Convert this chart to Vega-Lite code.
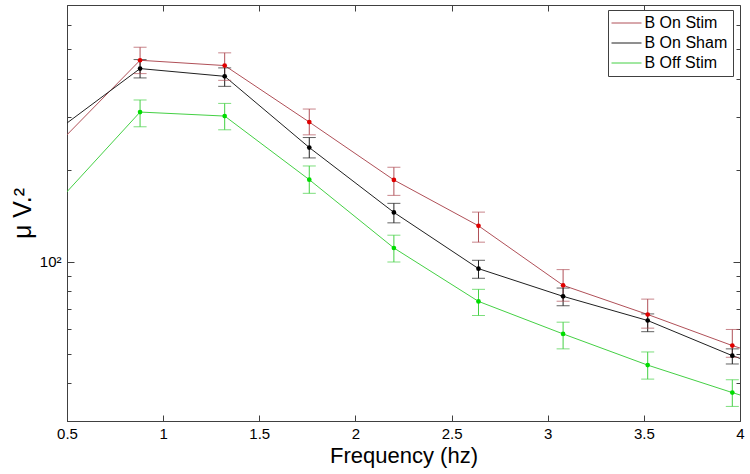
{
  "$schema": "https://vega.github.io/schema/vega-lite/v6.json",
  "width": 673,
  "height": 416,
  "autosize": {"type": "none"},
  "padding": {"left": 67, "top": 5, "right": 10, "bottom": 53},
  "background": "white",
  "config": {
    "view": {"stroke": "#404040", "strokeWidth": 1},
    "font": "Liberation Sans",
    "axis": {
      "domainColor": "#404040",
      "tickColor": "#404040",
      "labelColor": "#000000",
      "titleColor": "#000000",
      "grid": false,
      "labelFont": "Liberation Sans",
      "titleFont": "Liberation Sans",
      "labelFontSize": 15,
      "titleFontWeight": "normal"
    },
    "legend": {
      "orient": "none",
      "legendX": 541,
      "legendY": 5,
      "strokeColor": "#404040",
      "fillColor": "white",
      "padding": 5,
      "symbolType": "M-3,0H3",
      "symbolSize": 100,
      "symbolOffset": 5.5,
      "symbolStrokeWidth": 1,
      "labelFont": "Liberation Sans",
      "labelFontSize": 16,
      "labelColor": "#000000",
      "labelOffset": 10,
      "rowPadding": 4,
      "title": null
    }
  },
  "data": {
    "values": [
      {"series": "B On Stim", "f": 0.44, "v": 239.7, "lo": null, "hi": null},
      {"series": "B On Stim", "f": 0.88, "v": 460.6, "lo": 416.4, "hi": 508.4},
      {"series": "B On Stim", "f": 1.32, "v": 442.5, "lo": 395.7, "hi": 487.3},
      {"series": "B On Stim", "f": 1.76, "v": 288.5, "lo": 261.9, "hi": 318.4},
      {"series": "B On Stim", "f": 2.2, "v": 186.1, "lo": 165.6, "hi": 204.9},
      {"series": "B On Stim", "f": 2.64, "v": 131.5, "lo": 116.2, "hi": 145.9},
      {"series": "B On Stim", "f": 3.08, "v": 83.8, "lo": 74.3, "hi": 94.4},
      {"series": "B On Stim", "f": 3.52, "v": 67.2, "lo": 60.6, "hi": 75.5},
      {"series": "B On Stim", "f": 3.96, "v": 53.1, "lo": 48.6, "hi": 60.0},
      {"series": "B On Stim", "f": 4.4, "v": 43.3, "lo": null, "hi": null},
      {"series": "B On Sham", "f": 0.44, "v": 268.4, "lo": null, "hi": null},
      {"series": "B On Sham", "f": 0.88, "v": 432.5, "lo": 403.0, "hi": 463.1},
      {"series": "B On Sham", "f": 1.32, "v": 407.9, "lo": 378.1, "hi": 434.8},
      {"series": "B On Sham", "f": 1.76, "v": 237.9, "lo": 219.9, "hi": 256.6},
      {"series": "B On Sham", "f": 2.2, "v": 145.6, "lo": 134.5, "hi": 155.9},
      {"series": "B On Sham", "f": 2.64, "v": 95.1, "lo": 88.4, "hi": 101.3},
      {"series": "B On Sham", "f": 3.08, "v": 77.1, "lo": 71.8, "hi": 82.1},
      {"series": "B On Sham", "f": 3.52, "v": 64.2, "lo": 59.0, "hi": 67.5},
      {"series": "B On Sham", "f": 3.96, "v": 49.2, "lo": 46.2, "hi": 51.8},
      {"series": "B On Sham", "f": 4.4, "v": 39.2, "lo": null, "hi": null},
      {"series": "B Off Stim", "f": 0.44, "v": 154.8, "lo": null, "hi": null},
      {"series": "B Off Stim", "f": 0.88, "v": 311.2, "lo": 278.4, "hi": 341.0},
      {"series": "B Off Stim", "f": 1.32, "v": 301.9, "lo": 272.1, "hi": 332.3},
      {"series": "B Off Stim", "f": 1.76, "v": 186.5, "lo": 168.2, "hi": 206.9},
      {"series": "B Off Stim", "f": 2.2, "v": 111.2, "lo": 100.0, "hi": 122.5},
      {"series": "B Off Stim", "f": 2.64, "v": 74.2, "lo": 66.7, "hi": 81.3},
      {"series": "B Off Stim", "f": 3.08, "v": 58.0, "lo": 51.8, "hi": 63.4},
      {"series": "B Off Stim", "f": 3.52, "v": 45.8, "lo": 41.2, "hi": 50.6},
      {"series": "B Off Stim", "f": 3.96, "v": 37.2, "lo": 33.5, "hi": 41.0},
      {"series": "B Off Stim", "f": 4.4, "v": 30.5, "lo": null, "hi": null}
    ]
  },
  "layer": [
    {
      "mark": {"type": "line", "clip": true, "strokeWidth": 1},
      "encoding": {
        "x": {
          "field": "f", "type": "quantitative",
          "scale": {"domain": [0.5, 4], "nice": false, "zero": false},
          "axis": {
            "orient": "bottom",
            "values": [0.5, 1, 1.5, 2, 2.5, 3, 3.5, 4],
            "format": "~g",
            "labelFlush": false,
            "tickSize": -6,
            "labelPadding": 11,
            "title": "Frequency (hz)",
            "titleFontSize": 22,
            "titlePadding": 4
          }
        },
        "y": {
          "field": "v", "type": "quantitative",
          "scale": {"type": "log", "domain": [30, 700], "nice": false},
          "axis": {
            "orient": "left",
            "values": [30, 40, 50, 60, 70, 80, 90, 100, 200, 300, 400, 500, 600, 700],
            "labelExpr": "datum.value == 100 ? '10²' : ''",
            "tickSize": {"condition": {"test": "datum.value == 100", "value": -7}, "value": -4},
            "labelPadding": 13,
            "title": "μ V.²",
            "titleFontSize": 25,
            "titlePadding": 4
          }
        },
        "color": {
          "field": "series", "type": "nominal",
          "scale": {"domain": ["B On Stim", "B On Sham", "B Off Stim"], "range": ["#b05058", "#202020", "#44d044"]},
          "legend": {}
        }
      }
    },
    {
      "transform": [{"filter": "datum.lo != null"}],
      "mark": {"type": "rule", "strokeWidth": 1},
      "encoding": {
        "x": {"field": "f", "type": "quantitative", "axis": {"orient": "top", "values": [1, 1.5, 2, 2.5, 3, 3.5], "labels": false, "title": null, "tickSize": -6, "domain": false}},
        "y": {"field": "lo", "type": "quantitative", "axis": {"orient": "right", "values": [30, 40, 50, 60, 70, 80, 90, 100, 200, 300, 400, 500, 600, 700], "labels": false, "title": null, "tickSize": {"condition": {"test": "datum.value == 100", "value": -7}, "value": -4}, "domain": false}},
        "y2": {"field": "hi"},
        "color": {"field": "series", "type": "nominal", "legend": null}
      }
    },
    {
      "transform": [{"filter": "datum.lo != null"}],
      "mark": {"type": "tick", "orient": "horizontal", "size": 13, "thickness": 1},
      "encoding": {
        "x": {"field": "f", "type": "quantitative", "axis": null},
        "y": {"field": "lo", "type": "quantitative", "axis": null},
        "color": {"field": "series", "type": "nominal", "legend": null}
      }
    },
    {
      "transform": [{"filter": "datum.lo != null"}],
      "mark": {"type": "tick", "orient": "horizontal", "size": 13, "thickness": 1},
      "encoding": {
        "x": {"field": "f", "type": "quantitative", "axis": null},
        "y": {"field": "hi", "type": "quantitative", "axis": null},
        "color": {"field": "series", "type": "nominal", "legend": null}
      }
    },
    {
      "transform": [{"filter": "datum.lo != null"}],
      "mark": {"type": "point", "filled": true, "shape": "circle", "size": 22, "opacity": 1},
      "encoding": {
        "x": {"field": "f", "type": "quantitative", "axis": null},
        "y": {"field": "v", "type": "quantitative", "axis": null},
        "fill": {
          "field": "series", "type": "nominal",
          "scale": {"domain": ["B On Stim", "B On Sham", "B Off Stim"], "range": ["#e00000", "#000000", "#00dd00"]},
          "legend": null
        }
      }
    }
  ]
}
